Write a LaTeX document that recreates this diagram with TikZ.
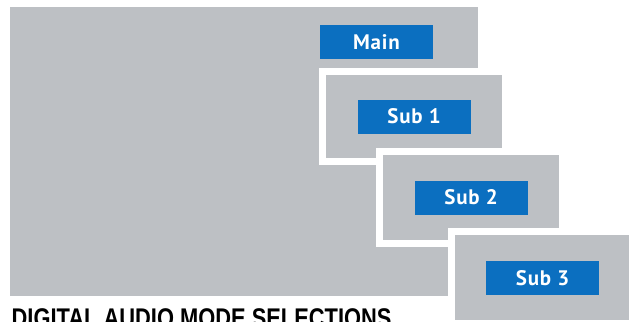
\documentclass[tikz,border=0pt]{standalone}
\usepackage{fontspec}
\usepackage{tikz}
\usetikzlibrary{positioning}
\definecolor{PanelGray}{HTML}{BDC0C4}
\definecolor{ModeBlue}{HTML}{0B6FC0}
\newfontfamily\btnfont{PT Sans}[LetterSpace=4]
\newfontfamily\titlefont{Liberation Sans}
\begin{document}
\begin{tikzpicture}[x=1pt,y=-1pt,
          panel/.style={rectangle,fill=PanelGray,draw=white,line width=7pt,
                        inner sep=0pt,outer sep=0pt},
          btn/.style={rectangle,fill=ModeBlue,text=white,inner sep=0pt,
                      minimum width=113pt,minimum height=34pt,
                      font=\btnfont\bfseries\fontsize{21}{21}\selectfont}]
        \useasboundingbox (0,0) rectangle (631,321);
        \clip (0,0) rectangle (631,321);
        % panels, back to front
        \node[panel,draw=none,minimum width=468pt,minimum height=289pt]
              (main) at (244,151.5) {};
        \node[panel,minimum width=183pt,minimum height=90pt] (sub1) at (414,116.5) {};
        \node[panel,minimum width=183pt,minimum height=92pt] (sub2) at (471,197.5) {};
        \node[panel,minimum width=181pt,minimum height=92pt] (sub3) at (542,277.5) {};
        % mode buttons
        \node[btn] (bmain) at (376.5,42) {Main};
        \node[btn] (bsub1) at (sub1.center) {Sub 1};
        \node[btn] (bsub2) at (sub2.center) {Sub 2};
        \node[btn] (bsub3) at (542.5,278) {Sub 3};
        % caption
        \node[anchor=base west,inner sep=0pt,xscale=0.81,
              font=\titlefont\bfseries\fontsize{27}{27}\selectfont]
              (title) at (11.5,327.5) {DIGITAL AUDIO MODE SELECTIONS};
\end{tikzpicture}
\end{document}
